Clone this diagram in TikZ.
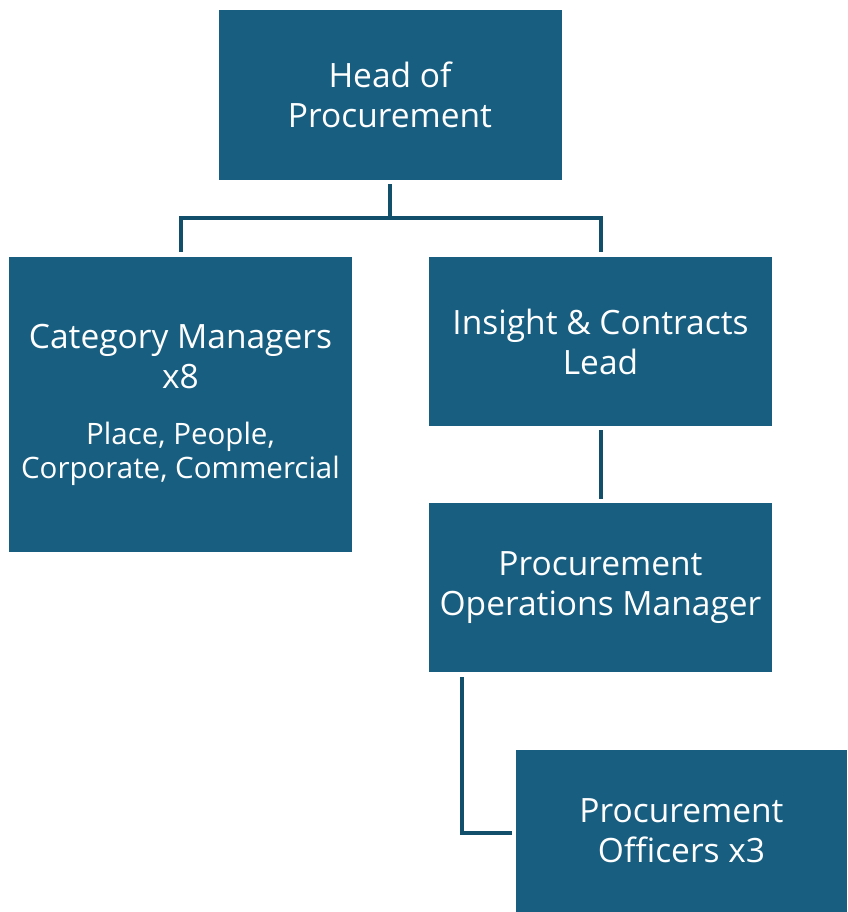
\documentclass[tikz,border=0pt]{standalone}
\usepackage{fontspec}
\setmainfont{Open Sans}
\usetikzlibrary{positioning}
\definecolor{mteal}{rgb}{0.09, 0.37, 0.50}
\definecolor{mline}{rgb}{0.07, 0.31, 0.42}
\tikzset{rolebox/.style = {fill=mteal, text=white, align=center,
                           inner sep=0pt, font=\fontsize{33.5}{40}\selectfont}}
\tikzset{link/.style = {draw=mline, line width=4pt}}
\newcommand{\smalltxt}{\fontsize{29.5}{34}\selectfont}

\begin{document}
\begin{tikzpicture}[x=1pt, y=-1pt]
      \useasboundingbox (0, 0) rectangle (847, 912);
      \node [rolebox, minimum width=343pt, minimum height=170pt] (head) at (390, 95)
            {Head of\\Procurement};
      \node [rolebox, minimum width=343pt, minimum height=295pt] (cat) at (180.5, 404.5)
            {Category Managers\\x8\\[16pt]{\smalltxt Place, People,}\\[-6pt]{\smalltxt Corporate, Commercial}};
      \node [rolebox, minimum width=343pt, minimum height=169pt] (ins) at (600.5, 341.5)
            {Insight \& Contracts\\Lead};
      \node [rolebox, minimum width=343pt, minimum height=169pt] (ops) at (600.5, 587.5)
            {Procurement\\Operations Manager};
      \node [rolebox, minimum width=331pt, minimum height=162pt] (off) at (681.5, 831)
            {Procurement\\Officers x3};
      \coordinate (fork) at ([yshift=-38pt]head.south);
      \draw [link, shorten <=4pt] (head.south) -- (fork);
      \draw [link, shorten >=5pt] (fork) -| (cat.north);
      \draw [link, shorten >=5pt] (fork) -| (ins.north);
      \draw [link, shorten <=4pt, shorten >=4pt] (ins.south) -- (ops.north);
      \draw [link, shorten <=5pt, shorten >=4pt] ([xshift=33pt]ops.south west) |- ([yshift=-2pt]off.west);
    \end{tikzpicture}
\end{document}
